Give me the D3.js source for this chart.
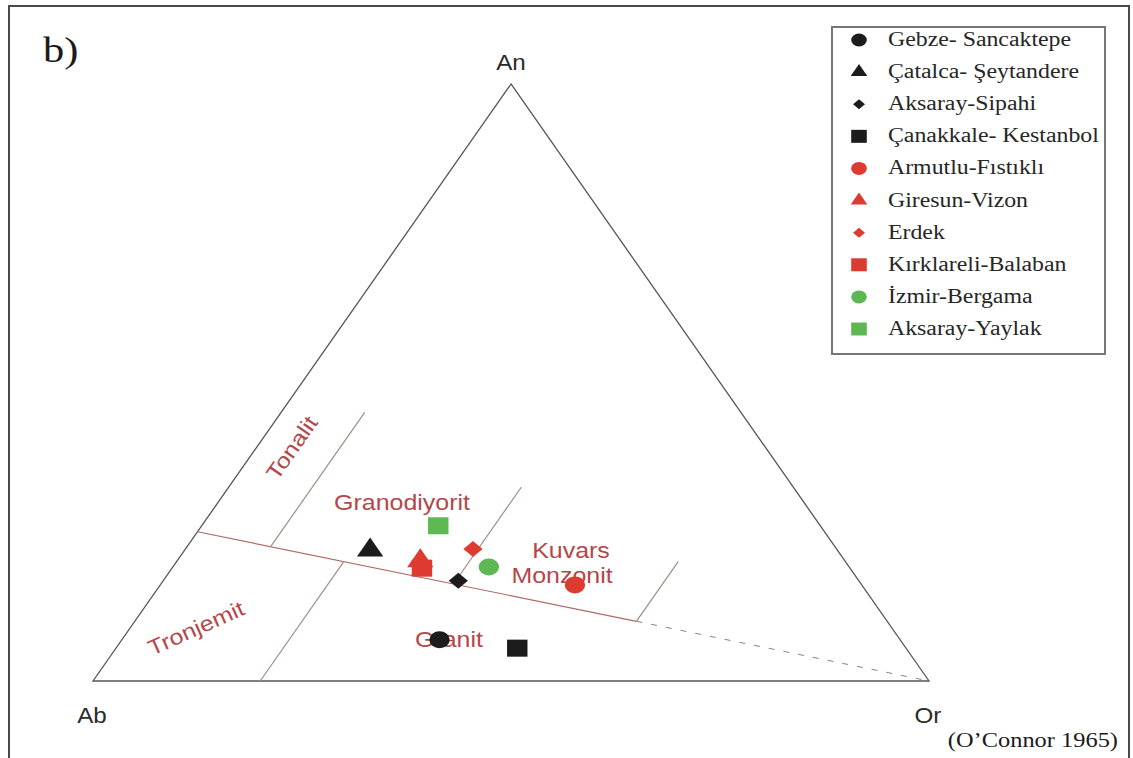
<!DOCTYPE html>
<html>
<head>
<meta charset="utf-8">
<script src="https://cdn.jsdelivr.net/npm/d3@7"></script>
<style>
  body { margin: 0; background: #fff; }
  svg { display: block; }
</style>
</head>
<body>
<div id="chart"></div>
<script>
// samples (An - Ab - Or, %)
var samples = ['Gebze- Sancaktepe', 'Çatalca- Şeytandere', 'Aksaray-Sipahi', 'Çanakkale- Kestanbol',
  'Armutlu-Fıstıklı', 'Giresun-Vizon', 'Erdek', 'Kırklareli-Balaban', 'İzmir-Bergama', 'Aksaray-Yaylak']
var shapes = ['circle', 'triangle', 'diamond', 'square', 'circle', 'triangle', 'diamond', 'square', 'circle', 'square']
var groups = ['black', 'black', 'black', 'black', 'red', 'red', 'red', 'red', 'green', 'green']
var anValues = [6.9, 21.9, 16.8, 5.5, 16.1, 20.1, 22.1, 18.9, 19.1, 26.0]
var abValues = [55.1, 55.9, 47.9, 46.5, 34.3, 50.8, 43.5, 51.2, 43.1, 45.7]
var orValues = [38.0, 22.2, 35.3, 48.0, 49.6, 29.1, 34.4, 29.9, 37.8, 28.3]

// field boundaries (O'Connor 1965), endpoints as [An, Ab, Or]
var boundary = [[25, 75, 0], [10, 30, 60]]
var boundaryDashed = [[10, 30, 60], [0, 0, 100]]
var fieldLines = [
  [[22.5, 67.5, 10], [45, 45, 10]],
  [[20, 60, 20], [0, 80, 20]],
  [[16.25, 48.75, 35], [32.5, 32.5, 35]],
  [[10, 30, 60], [20, 20, 60]]
]
var fieldNames = ['Tonalit', 'Tronjemit', 'Granodiyorit', 'Kuvars', 'Monzonit', 'Granit']
var corners = ['An', 'Ab', 'Or']

var width = 1133
var height = 758
var stretchX = 1.2

var colorMap = { black: '#1c1c1c', red: '#dd3b30', green: '#5db752' }

var svg = d3
  .select('#chart')
  .append('svg')
  .attr('width', width)
  .attr('height', height)

var x = d3.scaleLinear().domain([0, 1]).range([93, 929])
var y = d3.scaleLinear().domain([0, 1]).range([681, 84])

function px(p) {
  var s = p[0] + p[1] + p[2]
  return x((p[2] + p[0] / 2) / s)
}
function py(p) {
  var s = p[0] + p[1] + p[2]
  return y(p[0] / s)
}

// the figure is a bit wider than tall, stretch text to match
function stretch(sel, k) {
  sel.each(function() {
    var w = this.getComputedTextLength()
    d3.select(this).attr('textLength', w * k).attr('lengthAdjust', 'spacingAndGlyphs')
  })
}

// frame
svg.append('path')
  .attr('d', 'M9,' + height + 'V6H1129V' + height)
  .attr('fill', 'none')
  .attr('stroke', '#4a4a4a')
  .attr('stroke-width', 2)

svg.append('text')
  .text('b)')
  .attr('x', 43)
  .attr('y', 62)
  .attr('font-family', 'Liberation Serif, Times New Roman, serif')
  .attr('font-size', 36)
  .attr('fill', '#1a1a1a')
  .call(stretch, 1.18)

// triangle
var tri = [[100, 0, 0], [0, 100, 0], [0, 0, 100]]
svg.append('path')
  .attr('d', d3.line().x(px).y(py)(tri) + 'Z')
  .attr('fill', 'none')
  .attr('stroke', '#555')
  .attr('stroke-width', 1.3)

svg.append('path')
  .attr('d', d3.line().x(px).y(py)(boundary))
  .attr('fill', 'none')
  .attr('stroke', '#b06a6a')
  .attr('stroke-width', 1.2)

svg.append('path')
  .attr('d', d3.line().x(px).y(py)(boundaryDashed))
  .attr('fill', 'none')
  .attr('stroke', '#8a8a8a')
  .attr('stroke-width', 1.1)
  .attr('stroke-dasharray', '6,9')

svg.selectAll('.field-line')
  .data(fieldLines)
  .enter()
  .append('path')
  .attr('class', 'field-line')
  .attr('d', d => d3.line().x(px).y(py)(d))
  .attr('fill', 'none')
  .attr('stroke', '#a08c8c')
  .attr('stroke-width', 1.2)

// corner labels
var cornerPos = [[511, 70], [92, 723], [928, 723]]
svg.selectAll('.corner-label')
  .data(corners)
  .enter()
  .append('text')
  .attr('class', 'corner-label')
  .text(d => d)
  .attr('x', (d, i) => cornerPos[i][0])
  .attr('y', (d, i) => cornerPos[i][1])
  .attr('text-anchor', 'middle')
  .attr('font-family', 'Liberation Sans, Arial, sans-serif')
  .attr('font-size', 22)
  .attr('fill', '#2a2a2a')
  .call(stretch, 1.1)

// field names
var fieldPos = [[298, 452, -55], [199, 635, -24], [402, 510, 0], [571, 558, 0], [562, 583, 0], [449, 647, 0]]
svg.selectAll('.field-label')
  .data(fieldNames)
  .enter()
  .append('text')
  .attr('class', 'field-label')
  .text(d => d)
  .attr('text-anchor', 'middle')
  .attr('transform', (d, i) => 'translate(' + fieldPos[i][0] + ',' + fieldPos[i][1] + ') rotate(' + fieldPos[i][2] + ')')
  .attr('font-family', 'Liberation Sans, Arial, sans-serif')
  .attr('font-size', 21.5)
  .attr('fill', '#b5474a')
  .call(stretch, 1.16)

// markers
var bigSize = { circle: 227, triangle: 208, diamond: 128, square: 290 }
var smallSize = { circle: 133, triangle: 83, diamond: 50, square: 169 }
var symbolType = { circle: d3.symbolCircle, triangle: d3.symbolTriangle, diamond: d3.symbolSquare, square: d3.symbolSquare }

function markerPath(shape, sizes) {
  return d3.symbol().type(symbolType[shape]).size(sizes[shape])()
}
function markerTransform(shape, cx, cy) {
  var t = 'translate(' + cx + ',' + cy + ') scale(' + stretchX + ',1)'
  if (shape === 'diamond') t += ' rotate(45)'
  return t
}

var points = samples.map((d, i) => ({
  name: d, shape: shapes[i], group: groups[i],
  an: anValues[i], ab: abValues[i], or: orValues[i]
}))

svg.selectAll('.sample')
  .data(points)
  .enter()
  .append('path')
  .attr('class', 'sample')
  .attr('d', d => markerPath(d.shape, bigSize))
  .attr('transform', d => markerTransform(d.shape, px([d.an, d.ab, d.or]), py([d.an, d.ab, d.or])))
  .attr('fill', d => colorMap[d.group])

// legend
var legend = svg.append('g').attr('class', 'legend')
legend.append('rect')
  .attr('x', 832)
  .attr('y', 27)
  .attr('width', 273)
  .attr('height', 327)
  .attr('fill', '#fff')
  .attr('stroke', '#777')
  .attr('stroke-width', 2)

var rowY = d3.scaleLinear().domain([0, 9]).range([40, 329])

legend.selectAll('.legend-marker')
  .data(points)
  .enter()
  .append('path')
  .attr('class', 'legend-marker')
  .attr('d', d => markerPath(d.shape, smallSize))
  .attr('transform', (d, i) => markerTransform(d.shape, 859, rowY(i)))
  .attr('fill', d => colorMap[d.group])

legend.selectAll('.legend-text')
  .data(points)
  .enter()
  .append('text')
  .attr('class', 'legend-text')
  .text(d => d.name)
  .attr('x', 888)
  .attr('y', (d, i) => rowY(i) + 6)
  .attr('font-family', 'Liberation Serif, Times New Roman, serif')
  .attr('font-size', 20)
  .attr('fill', '#262626')
  .call(stretch, 1.19)

svg.append('text')
  .text('(O\u2019Connor 1965)')
  .attr('x', 1118)
  .attr('y', 747)
  .attr('text-anchor', 'end')
  .attr('font-family', 'Liberation Serif, Times New Roman, serif')
  .attr('font-size', 20)
  .attr('fill', '#1a1a1a')
  .call(stretch, 1.22)
</script>
</body>
</html>
